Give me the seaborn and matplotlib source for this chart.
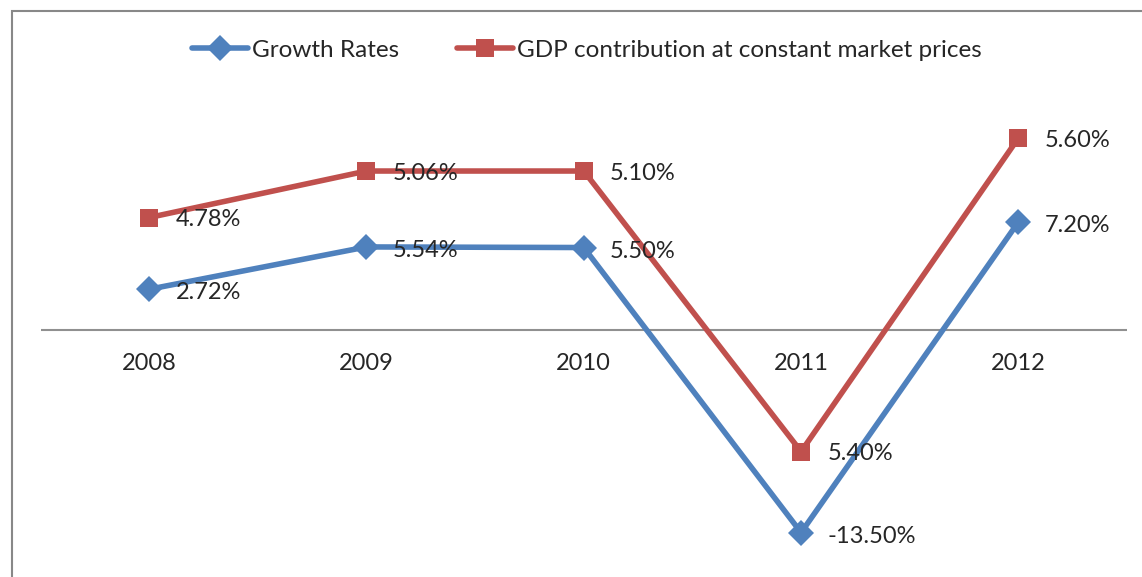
import numpy as np
import pandas as pd
import seaborn as sns
import matplotlib.pyplot as plt
from matplotlib.patches import Rectangle
from matplotlib.lines import Line2D

years = ['2008', '2009', '2010', '2011', '2012']
growth = [2.72, 5.54, 5.50, -13.50, 7.20]
gdp = [4.78, 5.06, 5.10, 5.40, 5.60]
series_names = ['Growth Rates', 'GDP contribution at constant market prices']

sns.set_style('white')
plt.rcParams['font.family'] = ['Lato', 'DejaVu Sans']

# stacked line chart: second series sits on top of the first
stacked = np.array(growth) + np.array(gdp)
df = pd.DataFrame({
    'x': list(range(len(years))) * 2,
    'value': list(growth) + list(stacked),
    'series': [series_names[0]] * len(years) + [series_names[1]] * len(years),
})

blue = '#4F81BD'
red = '#C0504D'

fig = plt.figure(figsize=(11.42, 5.77), dpi=100)
ax = fig.add_axes([0.0355, 0.038, 0.9514, 0.780])

sns.lineplot(data=df, x='x', y='value', hue='series', style='series',
             palette=[blue, red], markers=['D', 's'], dashes=False,
             linewidth=4, markersize=13, markeredgewidth=0, ax=ax, legend=False)

for i in range(len(years)):
    ax.annotate(f'{growth[i]:.2f}%', (i, growth[i]), xytext=(19, -2.5),
                textcoords='offset points', ha='left', va='center', fontsize=17)
    ax.annotate(f'{gdp[i]:.2f}%', (i, stacked[i]), xytext=(19, -1.5),
                textcoords='offset points', ha='left', va='center', fontsize=17)

ax.set_xlim(-0.5, len(years) - 0.5)
ax.set_ylim(-15, 15)
ax.axhline(0, color='#909090', linewidth=1.5, zorder=0)
for sp in ax.spines.values():
    sp.set_visible(False)
ax.set_yticks([])
ax.set_xticks([])
ax.set_xlabel('')
ax.set_ylabel('')
for i, y in enumerate(years):
    ax.text(i, -2.2, y, ha='center', va='center', fontsize=17)

# legend
handles = [Line2D([], [], color=blue, lw=4, marker='D', markersize=13, markeredgewidth=0),
           Line2D([], [], color=red, lw=4, marker='s', markersize=13, markeredgewidth=0)]
fig.legend(handles, series_names, loc='center', bbox_to_anchor=(0.514, 0.913), ncol=2,
           frameon=False, fontsize=17.5, handlelength=2.3, handletextpad=0.15, columnspacing=2.4)

# outer chart border (cut off at right and bottom)
fig.patches.append(Rectangle((12 / 1142, -0.05), 1.2, 1 - 11 / 577 + 0.05,
                             transform=fig.transFigure, fill=False,
                             edgecolor='#888888', linewidth=1.5))

fig.savefig('out.png', dpi=100)
